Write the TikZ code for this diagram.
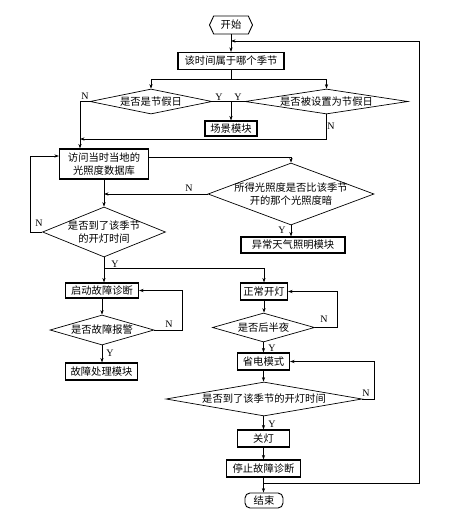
\documentclass[tikz,border=0pt]{standalone}
\usepackage{fontspec}
\setmainfont{Liberation Serif}
\newfontfamily\cjk{Noto Sans CJK SC}
\usetikzlibrary{shapes.geometric,shapes.symbols,arrows.meta}
\begin{document}
\begin{tikzpicture}[x=1pt,y=-1pt,
 every node/.style={font=\cjk\fontsize{10.3}{13}\selectfont},
 box/.style={draw,line width=1.1pt,inner sep=0pt,align=center},
 dia/.style={draw,diamond,line width=0.7pt,inner sep=0pt},
 dtext/.style={align=center,inner sep=0pt,font=\cjk\fontsize{10.3}{13}\selectfont},
 startbox/.style={draw,signal,signal to=west and east,signal pointer angle=130,line width=0.9pt,inner sep=0pt,minimum width=43pt,minimum height=18pt},
 endbox/.style={draw,rounded corners=5pt,line width=0.9pt,inner sep=0pt,minimum width=38pt,minimum height=15pt},
 arr/.style={-{Stealth[length=4.5pt,width=3.2pt]},line width=0.7pt},
 ln/.style={line width=0.7pt},
 yn/.style={font=\fontsize{10}{12}\selectfont,inner sep=0pt}]
\useasboundingbox (0,0) rectangle (474,520);

% nodes
\node[startbox] (st) at (231,25) {开始};
\node[box,minimum width=106pt,minimum height=17pt] (b1) at (231,61) {该时间属于哪个季节};
\node[dia,minimum width=122pt,minimum height=25pt,label={[dtext]center:是否是节假日}] (d1) at (151,101.5) {};
\node[dia,minimum width=163pt,minimum height=25pt,label={[dtext]center:是否被设置为节假日}] (d2) at (326.5,101.5) {};
\node[box,minimum width=52pt,minimum height=15pt] (b2) at (231,128.5) {场景模块};
\node[box,minimum width=89pt,minimum height=30pt] (b3) at (104,164) {访问当时当地的\\光照度数据库};
\node[dia,minimum width=166pt,minimum height=62pt,label={[dtext]center:所得光照度是否比该季节\\开的那个光照度暗}] (d3) at (291,194) {};
\node[box,minimum width=104pt,minimum height=16pt] (b4) at (293,245) {异常天气照明模块};
\node[dia,minimum width=123pt,minimum height=50pt,label={[dtext]center:是否到了该季节\\的开灯时间}] (d4) at (104,232) {};
\node[box,minimum width=73pt,minimum height=15pt] (b5) at (102,290.5) {启动故障诊断};
\node[dia,minimum width=104pt,minimum height=30pt,label={[dtext]center:是否故障报警}] (d5) at (102,330) {};
\node[box,minimum width=72pt,minimum height=17pt] (b7) at (101.5,371.5) {故障处理模块};
\node[box,minimum width=47pt,minimum height=17pt] (b6) at (264,291.5) {正常开灯};
\node[dia,minimum width=102pt,minimum height=29pt,label={[dtext]center:是否后半夜}] (d6) at (263.5,327.5) {};
\node[box,minimum width=52pt,minimum height=17pt] (b8) at (263.5,361.5) {省电模式};
\node[dia,minimum width=196pt,minimum height=34pt,label={[dtext]center:是否到了该季节的开灯时间}] (d7) at (264,399) {};
\node[box,minimum width=52pt,minimum height=17pt] (b9) at (263.5,438.5) {关灯};
\node[box,minimum width=74pt,minimum height=17pt] (b10) at (263.5,468.5) {停止故障诊断};
\node[endbox] (en) at (264,500.5) {结束};

% helper coordinates
\coordinate (c1) at (80,101.5);
\coordinate (j1) at (80,139);
\coordinate (j2) at (104,194);
\coordinate (j3) at (104,268);
\coordinate (j4) at (231,41);
\coordinate (j5) at (419,483);

% connectors
\draw[arr] (st.south) -- (b1.north);
\draw[ln] (b1.south) -- (231,79);
\draw[arr] (231,79) -| (d1.north);
\draw[arr] (231,79) -| (d2.north);
\draw[ln] (d1.east) -- (d2.west);
\draw[arr] (b2.north |- d1.east) -- (b2.north);
\draw[arr] (d1.west) -- (c1) -- (c1 |- b3.north);
\draw[arr] (d2.south) |- (j1);
\draw[arr] ([yshift=7pt]b3.east) -| (d3.north);
\draw[arr] (d3.west) -- (j2);
\draw[arr] (b3.south) -- (d4.north);
\draw[arr] (d4.west) -- ++(-12,0) |- ([yshift=8pt]b3.west);
\draw[arr] (d3.south) -- (d3.south |- b4.north);
\draw[arr] (d4.south) -- (d4.south |- b5.north);
\draw[arr] (j3) -| (b6.north);
\draw[arr] (b5.south) -- (d5.north);
\draw[arr] (d5.east) -- ++(28,0) |- (b5.east);
\draw[arr] (d5.south) -- (d5.south |- b7.north);
\draw[arr] (b6.south) -- (b6.south |- d6.north);
\draw[arr] (d6.east) -- ++(22,0) |- (b6.east);
\draw[arr] (d6.south) -- (b8.north);
\draw[arr] (b8.south) -- (b8.south |- d7.north);
\draw[arr] (d7.east) -- ++(12,0) |- (b8.east);
\draw[arr] (d7.south -| b9.north) -- (b9.north);
\draw[arr] (b9.south) -- (b10.north);
\draw[arr] (b10.south) -- (b10.south |- en.north);
\draw[arr] (b10.south |- j5) -- (j5) |- (j4);

% Y / N labels
\node[yn] (n1) at (85,96) {N};
\node[yn] (y1) at (219,97) {Y};
\node[yn] (y2) at (238,97) {Y};
\node[yn] (n2) at (331,126) {N};
\node[yn] (n3) at (189,188) {N};
\node[yn] (y3) at (282,230) {Y};
\node[yn] (n4) at (39,223) {N};
\node[yn] (y4) at (115,264) {Y};
\node[yn] (n5) at (169,324) {N};
\node[yn] (y5) at (110,353) {Y};
\node[yn] (n6) at (324,319) {N};
\node[yn] (y6) at (272,348) {Y};
\node[yn] (n7) at (366,393) {N};
\node[yn] (y7) at (272,424) {Y};
\end{tikzpicture}
\end{document}
